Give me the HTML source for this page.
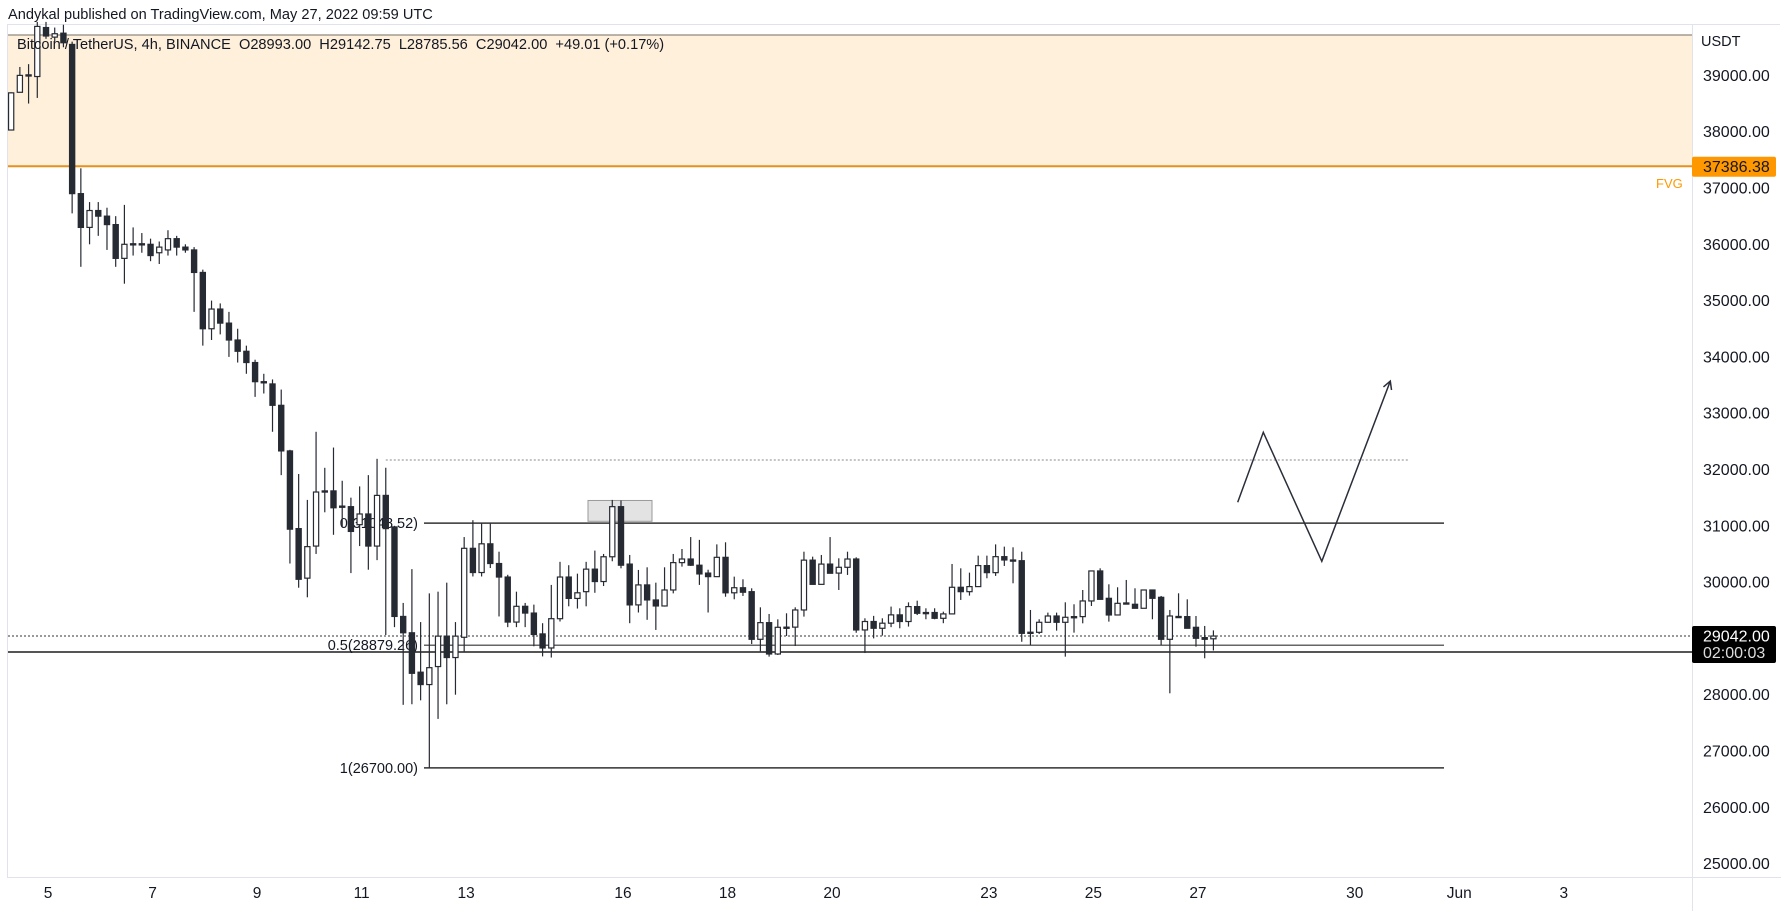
<!DOCTYPE html>
<html><head><meta charset="utf-8">
<style>
html,body{margin:0;padding:0;background:#fff;}
body{width:1781px;height:911px;overflow:hidden;position:relative;font-family:"Liberation Sans",sans-serif;}
svg text{font-family:"Liberation Sans",sans-serif;}
</style></head>
<body>
<svg id="chart" width="1781" height="911" xmlns="http://www.w3.org/2000/svg">
  <text x="8" y="19" font-size="14.6" fill="#131722">Andykal published on TradingView.com, May 27, 2022 09:59 UTC</text>
  <rect x="7.5" y="24.5" width="1772" height="853" fill="none" stroke="#e0e3eb"/>
  <g id="fvg"></g>
  <g id="overlays"></g>
  <g id="candles"></g>
  <g id="drawings"></g>
  <g id="axes"></g>
  <text x="17" y="49" font-size="14.6" fill="#131722" style="white-space:pre" xml:space="preserve">Bitcoin / TetherUS, 4h, BINANCE  O28993.00  H29142.75  L28785.56  C29042.00  +49.01 (+0.17%)</text>
</svg>
<script>
// ---- data ----
const candleStart = -4; // candle index relative to May 5 00:00 (4h bars)
const opens  = [38030,38700,39000,38980,39850,39680,39750,39550,36900,36300,36600,36500,36350,35750,36000,36000,36000,35850,35900,36100,35950,35900,35500,34500,34850,34600,34300,34100,33900,33560,33520,33140,32330,30950,30070,30640,31610,31620,31340,31340,31020,31210,30640,31540,30980,29390,29100,28400,28180,28500,29040,28660,29020,30600,30170,30680,30330,30090,29290,29570,29450,29080,28830,29350,30090,29710,29830,30230,30010,30450,31340,30320,29595,29950,29683,29576,29860,30346,30410,30300,30160,30097,30440,29810,29900,29830,28984,29280,28723,29197,29200,29505,30390,29960,30320,30160,30263,30410,29150,29300,29180,29270,29418,29300,29565,29446,29460,29357,29435,29908,29830,29920,30293,30168,30452,30393,30380,29090,29108,29286,29398,29286,29387,29387,29665,30198,29712,29416,29623,29606,29535,29860,29730,28984,29390,29387,29197,29014,28993];
const highs  = [38700,39150,39200,39950,39950,39850,39900,39600,37350,36750,36750,36650,36500,36700,36300,36200,36100,36050,36250,36150,36000,35950,35550,35000,34950,34800,34500,34200,33950,33700,33600,33420,32350,31920,31460,32670,32030,32390,31800,31500,31700,31900,32190,32030,31000,29630,30230,29290,29800,29830,29990,29290,30800,31100,31040,31040,30540,30130,29830,29630,29600,29270,29950,30360,30300,30150,30360,30560,30500,31460,31450,30482,30216,30263,29990,30263,30500,30588,30800,30750,30220,30670,30707,30097,30050,29890,29552,29434,29339,29446,29552,30540,30452,30482,30800,30423,30540,30440,29357,29400,29357,29565,29535,29640,29670,29535,29535,29475,30322,30245,30168,30470,30470,30670,30630,30618,30540,29505,29340,29458,29458,29641,29606,29860,30198,30245,29961,29908,30038,29890,29860,29860,29754,29505,29801,29694,29398,29221,29142.75];
const lows   = [38030,38700,38500,38600,39650,39600,39500,36550,35600,36000,36150,35900,35600,35300,35800,35850,35700,35650,35800,35800,35850,34800,34200,34300,34400,34000,33900,33700,33290,33350,32670,31900,30330,29900,29730,30500,31240,30840,30980,30160,30640,30220,30390,29060,29200,27820,27830,27900,26700,27570,27830,28000,28760,30100,30100,30250,29390,29200,29200,29200,28860,28680,28660,29300,29570,29530,29570,29810,29930,30370,30245,29270,29460,29330,29150,29565,29800,30275,30287,29950,29460,30090,29740,29695,29754,28900,28765,28676,28705,29043,28865,29387,29960,29960,30157,29860,30127,29100,28740,29000,29050,29200,29180,29210,29415,29340,29340,29270,29435,29683,29760,29920,30068,30110,30287,29979,28940,28883,29079,29286,29138,28676,29102,29268,29576,29694,29298,29416,29623,29535,29535,29340,28883,28025,29380,29180,28854,28647,28785.56];
const closes = [38690,39000,39010,39870,39700,39740,39580,36900,36300,36600,36500,36350,35750,36000,36010,36010,35800,35950,36100,35950,35900,35500,34500,34850,34600,34300,34100,33900,33560,33540,33140,32330,30940,30050,30630,31600,31620,31320,31350,30900,31210,30640,31540,30950,29390,29100,28380,28180,28480,29040,28660,29040,30600,30170,30680,30330,30090,29290,29570,29450,29070,28830,29350,30090,29710,29810,30230,30010,30450,31340,30300,29595,29950,29683,29576,29860,30346,30410,30300,30145,30097,30440,29810,29900,29820,28984,29280,28723,29197,29200,29505,30390,29960,30320,30157,30263,30410,29150,29300,29180,29270,29418,29300,29565,29446,29460,29357,29435,29908,29830,29920,30293,30168,30452,30393,30390,29090,29110,29286,29398,29286,29375,29387,29665,30198,29694,29416,29623,29630,29535,29860,29712,28984,29398,29380,29180,29002,28984,29042];
const priceTicks = [39000,38000,37000,36000,35000,34000,33000,32000,31000,30000,29000,28000,27000,26000,25000];
const dateTickDays = [5,7,9,11,13,16,18,20,23,25,27,30,32,34];
const dateTickLabels = ["5","7","9","11","13","16","18","20","23","25","27","30","Jun","3"];
const fvgTop = 39717, fvgBottom = 37386.38;
const fibLevels = [31048.52, 28879.26, 26700.00];
const fibLabels = ["0(31048.52)","0.5(28879.26)","1(26700.00)"];
const dottedLevel = 32169;
const supportLevel = 28759;
const lastPrice = 29042.00;
const rectHigh = 31450, rectLow = 31080;
const pathPrices = [31420, 32660, 30370, 33570];
const pathDays = [27.76, 28.25, 29.37, 30.68];

// ---- axes ----
const NS="http://www.w3.org/2000/svg";
function yOf(p){ return 188 - (p-37000)*0.0563; }
function xOfK(k){ return 46 + k*8.712; }
function xOfDay(d){ return 48 + (d-5)*52.27; }
function mk(tag, attrs, parent){ const e=document.createElementNS(NS,tag); for(const k in attrs) e.setAttribute(k,attrs[k]); parent.appendChild(e); return e; }
const gF=document.getElementById('fvg'), gO=document.getElementById('overlays'), gC=document.getElementById('candles'), gD=document.getElementById('drawings'), gA=document.getElementById('axes');
const R=1692, L=8;

// FVG zone
let fz=mk('rect',{x:L,y:yOf(fvgTop),width:R-L,height:yOf(fvgBottom)-yOf(fvgTop),fill:'#fff0db'},gF);


let ft=mk('line',{x1:L,x2:R,y1:yOf(fvgTop),y2:yOf(fvgTop),stroke:'#a39b90','stroke-width':1.5},gF);


let fb=mk('line',{x1:L,x2:R,y1:yOf(fvgBottom),y2:yOf(fvgBottom),stroke:'#e8901c','stroke-width':2},gF);


let fl=mk('text',{x:1656,y:yOf(fvgBottom)+22,'font-size':13,fill:'#ff9800'},gF); fl.textContent='FVG';



// overlays
let dl=mk('line',{x1:xOfK(39),x2:1409,y1:yOf(dottedLevel),y2:yOf(dottedLevel),stroke:'#888','stroke-width':1,'stroke-dasharray':'2,2'},gO);


let cl=mk('line',{x1:L,x2:R,y1:yOf(lastPrice),y2:yOf(lastPrice),stroke:'#333','stroke-width':1,'stroke-dasharray':'2,2'},gO);


let sl=mk('line',{x1:L,x2:R,y1:yOf(supportLevel),y2:yOf(supportLevel),stroke:'#555','stroke-width':2},gO);


for(let i=0;i<fibLevels.length;i++){
  const y=yOf(fibLevels[i]);
  let ln=mk('line',{x1:424,x2:1444,y1:y,y2:y,stroke:i==1?'#666':'#333','stroke-width':1.5},gO);
  
  
  let tx=mk('text',{x:418,y:y+5,'font-size':14.5,fill:'#131722','text-anchor':'end'},gO); tx.textContent=fibLabels[i];
  
  
}
let rc=mk('rect',{x:588,y:yOf(rectHigh),width:64,height:yOf(rectLow)-yOf(rectHigh),fill:'#e3e3e3',stroke:'#9a9a9a','stroke-width':1},gO);



// candles
for(let i=0;i<opens.length;i++){
  const k=candleStart+i, x=xOfK(k), o=opens[i], c=closes[i], h=highs[i], l=lows[i];
  const up=c>=o, col='#262a33';
  let w=mk('line',{x1:x,x2:x,y1:yOf(h),y2:yOf(l),stroke:col,'stroke-width':1.2},gC);
  
  
  const yt=yOf(Math.max(o,c)), yb=yOf(Math.min(o,c));
  let b=mk('rect',{x:x-2.6,y:yt,width:5.2,height:Math.max(1.2,yb-yt),fill:up?'#fff':col,stroke:col,'stroke-width':1.2},gC);
  
  
}

// projection path
let pts=pathDays.map((d,i)=>xOfDay(d).toFixed(1)+','+yOf(pathPrices[i]).toFixed(1)).join(' ');
let pl=mk('polyline',{points:pts,fill:'none',stroke:'#2a2e39','stroke-width':1.5},gD);


{
  const x2=xOfDay(pathDays[3]), y2=yOf(pathPrices[3]), x1=xOfDay(pathDays[2]), y1=yOf(pathPrices[2]);
  const a=Math.atan2(y2-y1,x2-x1), s=9;
  const p1=(x2-s*Math.cos(a-0.5))+','+(y2-s*Math.sin(a-0.5)), p2=(x2-s*Math.cos(a+0.5))+','+(y2-s*Math.sin(a+0.5));
  let ah=mk('polyline',{points:p1+' '+x2+','+y2+' '+p2,fill:'none',stroke:'#2a2e39','stroke-width':1.5},gD);
  
  
}

// price axis
let ax=mk('rect',{x:R,y:25,width:88,height:852,fill:'#fff'},gA);


let axl=mk('line',{x1:R+0.5,x2:R+0.5,y1:25,y2:911,stroke:'#e0e3eb'},gA);


let cur=mk('text',{x:1701,y:46,'font-size':14.5,fill:'#131722'},gA); cur.textContent='USDT';


for(const p of priceTicks){
  let t=mk('text',{x:1703,y:yOf(p)+5.5,'font-size':16,fill:'#131722'},gA); t.textContent=p.toFixed(2);
  
  
}
let ob=mk('rect',{x:1692,y:yOf(fvgBottom)-9.5,width:84,height:20,rx:2,fill:'#ff9800'},gA);


let obt=mk('text',{x:1703,y:yOf(fvgBottom)+6,'font-size':16,fill:'#131722'},gA); obt.textContent=fvgBottom.toFixed(2);


let lb=mk('rect',{x:1692,y:yOf(lastPrice)-10,width:84,height:37,rx:2,fill:'#000'},gA);


let lbt=mk('text',{x:1703,y:yOf(lastPrice)+5.5,'font-size':16,fill:'#fff'},gA); lbt.textContent=lastPrice.toFixed(2);


let lbc=mk('text',{x:1703,y:yOf(lastPrice)+22,'font-size':16,fill:'#ddd'},gA); lbc.textContent='02:00:03';



// time axis
let ta=mk('line',{x1:8,x2:1781,y1:877.5,y2:877.5,stroke:'#e0e3eb'},gA);


for(let i=0;i<dateTickDays.length;i++){
  let t=mk('text',{x:xOfDay(dateTickDays[i]),y:898,'font-size':15.5,fill:'#131722','text-anchor':'middle'},gA); t.textContent=dateTickLabels[i];
  
  
}
</script>
</body></html>
